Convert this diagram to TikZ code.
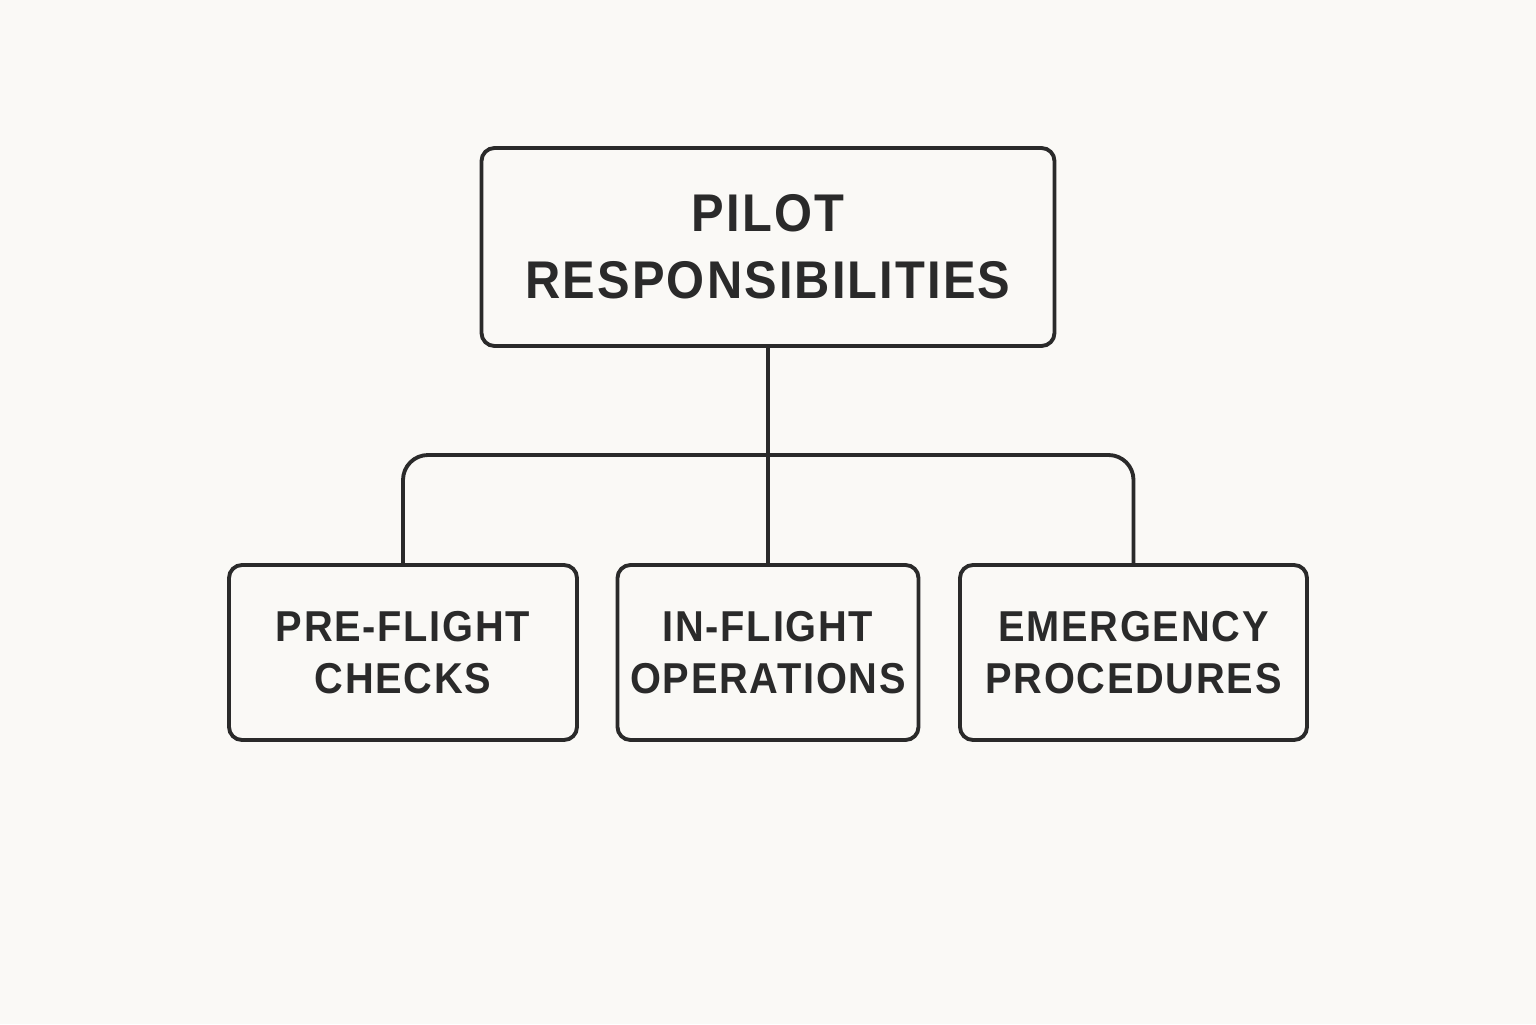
\documentclass[tikz,border=0pt]{standalone}
\usepackage{fontspec}
\setmainfont{Liberation Sans}[FakeStretch=0.92,LetterSpace=4]
\usepackage{tikz}
\usetikzlibrary{positioning}
\definecolor{paper}{HTML}{FAF9F6}
\definecolor{ink}{HTML}{2A2A2A}
\tikzset{
  headbox/.style={draw=ink, line width=1.1pt, rounded corners=0.13cm, text=ink,
    minimum width=5.73cm, minimum height=1.98cm, align=center,
    font=\fontsize{15.1}{19}\selectfont\bfseries},
  taskbox/.style={draw=ink, line width=1.1pt, rounded corners=0.13cm, text=ink,
    minimum height=1.75cm, align=center,
    font=\fontsize{12.3}{15}\selectfont\bfseries},
  link/.style={draw=ink, line width=1.1pt}
}
\begin{document}
\begin{tikzpicture}
\fill[paper] (0,0) rectangle (15.36,10.24);
\useasboundingbox (0,0) rectangle (15.36,10.24);
\node[headbox] (pilot) at (7.68,7.77) {PILOT\\RESPONSIBILITIES};
\node[taskbox, minimum width=3.48cm] (pre) at (4.03,3.715) {PRE-FLIGHT\\CHECKS};
\node[taskbox, minimum width=3.01cm] (inflight) at (7.68,3.715) {IN-FLIGHT\\OPERATIONS};
\node[taskbox, minimum width=3.47cm] (emerg) at (11.335,3.715) {EMERGENCY\\PROCEDURES};
\coordinate (bus) at (7.68,5.69);
% connectors
\draw[link] (pilot.south) -- (inflight.north);
\draw[link, rounded corners=0.25cm] (pre.north) |- (bus) -| (emerg.north);
\end{tikzpicture}
\end{document}
